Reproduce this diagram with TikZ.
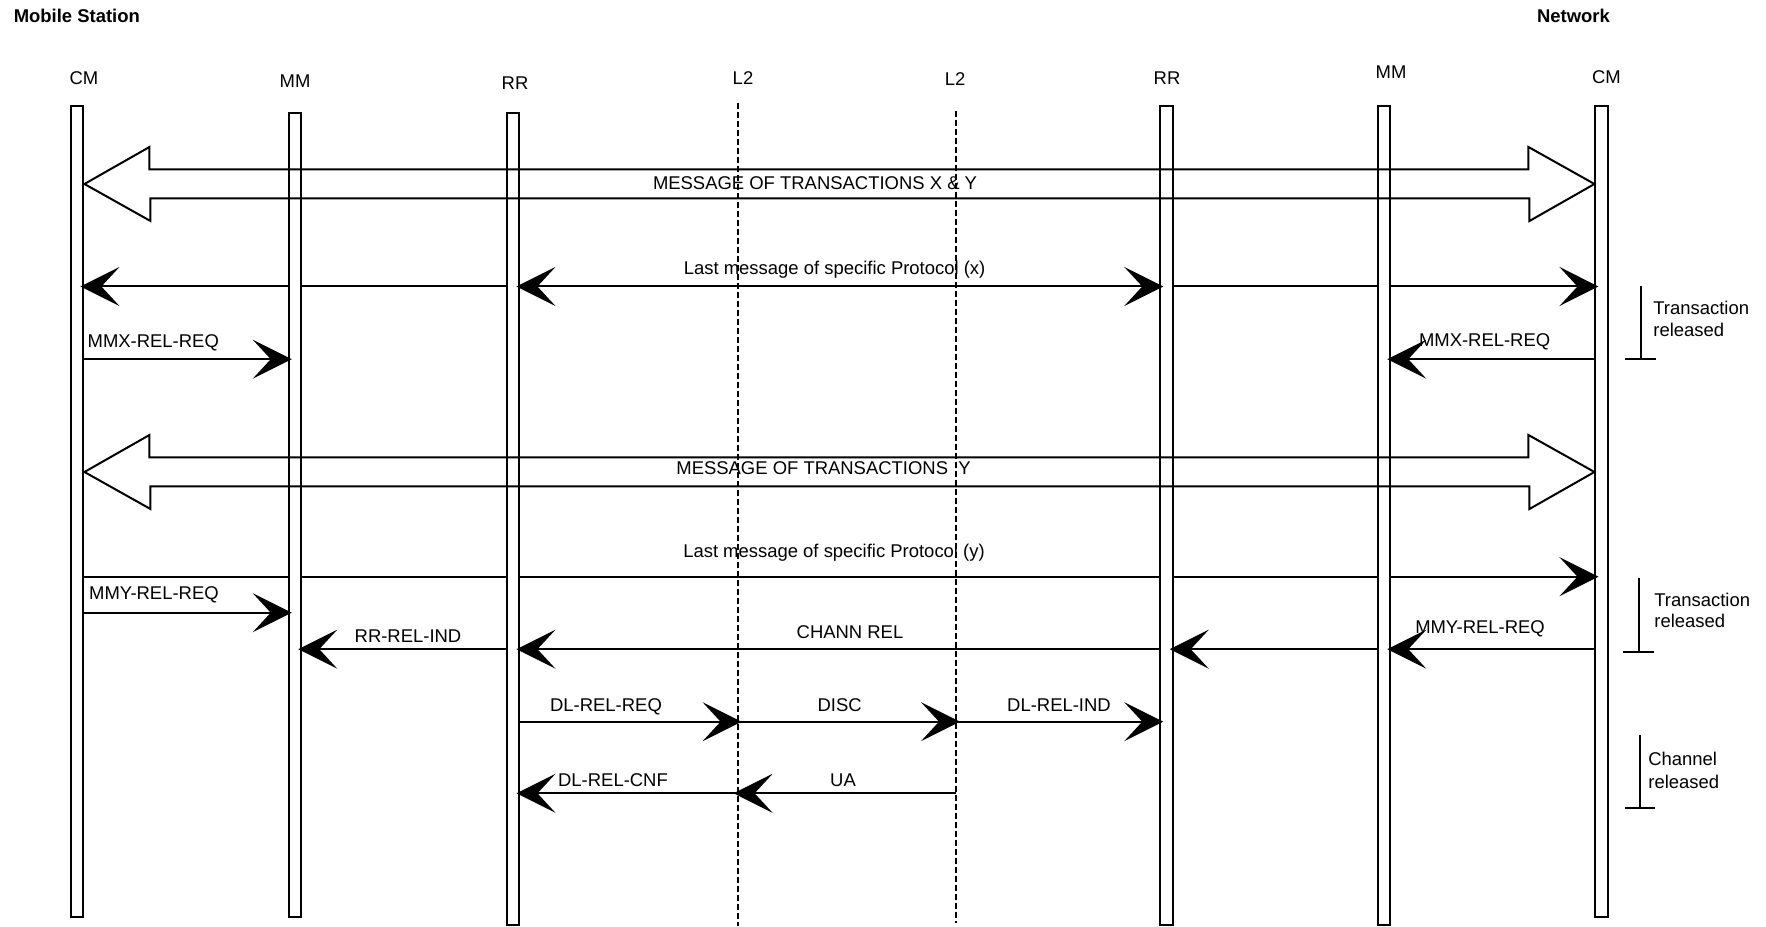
\documentclass[tikz,border=0pt]{standalone}
\usepackage{fontspec}
\setmainfont{Liberation Sans}
\usetikzlibrary{arrows.meta}

\begin{document}
\begin{tikzpicture}[x=0.2mm,y=-0.2mm,
		>={Stealth[length=7.8mm,width=7.8mm,inset=3.6mm]},
		every node/.style={font=\fontsize{10.5}{12.6}\selectfont,inner sep=0pt},
		lifebar/.style={draw,fill=white,line width=0.4mm,minimum width=2.5mm},
		layertwo/.style={line width=0.36mm,dash pattern=on 1.2mm off 0.6mm},
		msg/.style={line width=0.4mm},
		sig/.style={msg,->,shorten >=-0.8mm},
		bigmsg/.style={line width=0.4mm,line join=miter},
		relbar/.style={line width=0.4mm},
		lbl/.style={anchor=base},
		lbll/.style={anchor=base west},
		head/.style={font=\fontsize{10.5}{12.6}\selectfont\bfseries}]
		\useasboundingbox (0,0) rectangle (1766,927);
		% titles
		\node[lbll,head] (ms) at (13.4,23) {Mobile Station};
		\node[lbl,head] (nw) at (1573.5,23) {Network};
		% lifelines
		\node[lifebar,minimum height=162.2mm] (cmA) at (77.2,511.5) {};
		\node[lifebar,minimum height=160.9mm] (mmA) at (295,514.9) {};
		\node[lifebar,minimum height=162.4mm] (rrA) at (513.2,518.7) {};
		\node[lifebar,minimum height=163.7mm] (rrB) at (1166.5,515.4) {};
		\node[lifebar,minimum height=163.7mm] (mmB) at (1384,515.4) {};
		\node[lifebar,minimum height=162.2mm] (cmB) at (1601.7,511.5) {};
		\coordinate (l2A) at (737.6,103.3);
		\coordinate (l2B) at (956,110.7);
		\node[lbl] (cmAt) at (84,85) {CM};
		\node[lbl] (mmAt) at (295,87.3) {MM};
		\node[lbl] (rrAt) at (515,89.5) {RR};
		\node[lbl] (l2At) at (743,85) {L2};
		\node[lbl] (l2Bt) at (955,86) {L2};
		\node[lbl] (rrBt) at (1167,85) {RR};
		\node[lbl] (mmBt) at (1391,78.3) {MM};
		\node[lbl] (cmBt) at (1606.5,83.3) {CM};
		% rows
		\coordinate (rA) at (0,184);
		\coordinate (rPx) at (0,286.5);
		\coordinate (rMx) at (0,359.2);
		\coordinate (rB) at (0,472);
		\coordinate (rPy) at (0,576.7);
		\coordinate (rMy) at (0,612.7);
		\coordinate (rCh) at (0,649.2);
		\coordinate (rDl) at (0,721.7);
		\coordinate (rUa) at (0,793.3);
		% big messages
		\foreach \r in {rA,rB}
			\draw[bigmsg] (cmA.east |- \r) -- ++(65,-37) -- ++(0,22.5) -- ++(1379,0) -- ++(0,-22.5)
				-- (cmB.west |- \r) -- ++(-65,37) -- ++(0,-22.5) -- ++(-1379,0) -- ++(0,22.5) -- cycle;
		\node[lbl] (msgA) at (815,189.3) {MESSAGE OF TRANSACTIONS X \& Y};
		\node[lbl] (msgB) at (823.5,475) {MESSAGE OF TRANSACTIONS\ \ Y};
		% protocol x
		\draw[sig] (mmA.west |- rPx) -- (cmA.east |- rPx);
		\draw[msg] (mmA.east |- rPx) -- (rrA.west |- rPx);
		\draw[msg,<->,shorten <=-0.8mm,shorten >=-0.8mm] (rrA.east |- rPx) -- (rrB.west |- rPx);
		\draw[msg] (rrB.east |- rPx) -- (mmB.west |- rPx);
		\draw[sig] (mmB.east |- rPx) -- (cmB.west |- rPx);
		\node[lbl] (protX) at (834.6,274.8) {Last message of specific Protocol (x)};
		% MMX release
		\draw[sig] (cmA.east |- rMx) -- (mmA.west |- rMx);
		\node[lbll] (mmxA) at (87.3,348) {MMX-REL-REQ};
		\draw[sig] (cmB.west |- rMx) -- (mmB.east |- rMx);
		\node[lbl] (mmxB) at (1484.6,347) {MMX-REL-REQ};
		\draw[relbar] (1640.6,285.7) -- (1640.6,359) (1625,359) -- (1656,359);
		\node[lbll] (trA) at (1653,315) {Transaction};
		\node[lbll] (trAb) at (1653,336.7) {released};
		% protocol y
		\draw[msg] (cmA.east |- rPy) -- (mmA.west |- rPy);
		\draw[msg] (mmA.east |- rPy) -- (rrA.west |- rPy);
		\draw[msg] (rrA.east |- rPy) -- (rrB.west |- rPy);
		\draw[msg] (rrB.east |- rPy) -- (mmB.west |- rPy);
		\draw[sig] (mmB.east |- rPy) -- (cmB.west |- rPy);
		\node[lbl] (protY) at (834,558) {Last message of specific Protocol (y)};
		% MMY release and channel release
		\draw[sig] (cmA.east |- rMy) -- (mmA.west |- rMy);
		\node[lbll] (mmyA) at (88.8,600) {MMY-REL-REQ};
		\draw[sig] (cmB.west |- rCh) -- (mmB.east |- rCh);
		\draw[sig] (mmB.west |- rCh) -- (rrB.east |- rCh);
		\draw[sig] (rrB.west |- rCh) -- (rrA.east |- rCh);
		\draw[sig] (rrA.west |- rCh) -- (mmA.east |- rCh);
		\node[lbl] (mmyB) at (1480,633.3) {MMY-REL-REQ};
		\node[lbl] (chann) at (850,638) {CHANN REL};
		\node[lbl] (rrrel) at (408,643) {RR-REL-IND};
		\draw[relbar] (1638.6,578.3) -- (1638.6,651.7) (1623,651.7) -- (1654,651.7);
		\node[lbll] (trB) at (1654,606.7) {Transaction};
		\node[lbll] (trBb) at (1654,628) {released};
		% layer 2
		\draw[sig] (rrA.east |- rDl) -- (l2A |- rDl);
		\draw[sig] (l2A |- rDl) -- (l2B |- rDl);
		\draw[sig] (l2B |- rDl) -- (rrB.west |- rDl);
		\node[lbl] (dlreq) at (606,711.7) {DL-REL-REQ};
		\node[lbl] (disc) at (839.6,711.7) {DISC};
		\node[lbl] (dlind) at (1059,711.7) {DL-REL-IND};
		\draw[sig] (l2B |- rUa) -- (l2A |- rUa);
		\draw[sig] (l2A |- rUa) -- (rrA.east |- rUa);
		\node[lbl] (ua) at (843,786.7) {UA};
		\node[lbl] (dlcnf) at (613,786.7) {DL-REL-CNF};
		\draw[relbar] (1640,735) -- (1640,808.3) (1625,808.3) -- (1655,808.3);
		\node[lbll] (chA) at (1648,765) {Channel};
		\node[lbll] (chAb) at (1648,788.3) {released};
		\draw[layertwo] (l2A) -- ++(0,822.4);
		\draw[layertwo] (l2B) -- ++(0,812.6);
	\end{tikzpicture}
\end{document}
